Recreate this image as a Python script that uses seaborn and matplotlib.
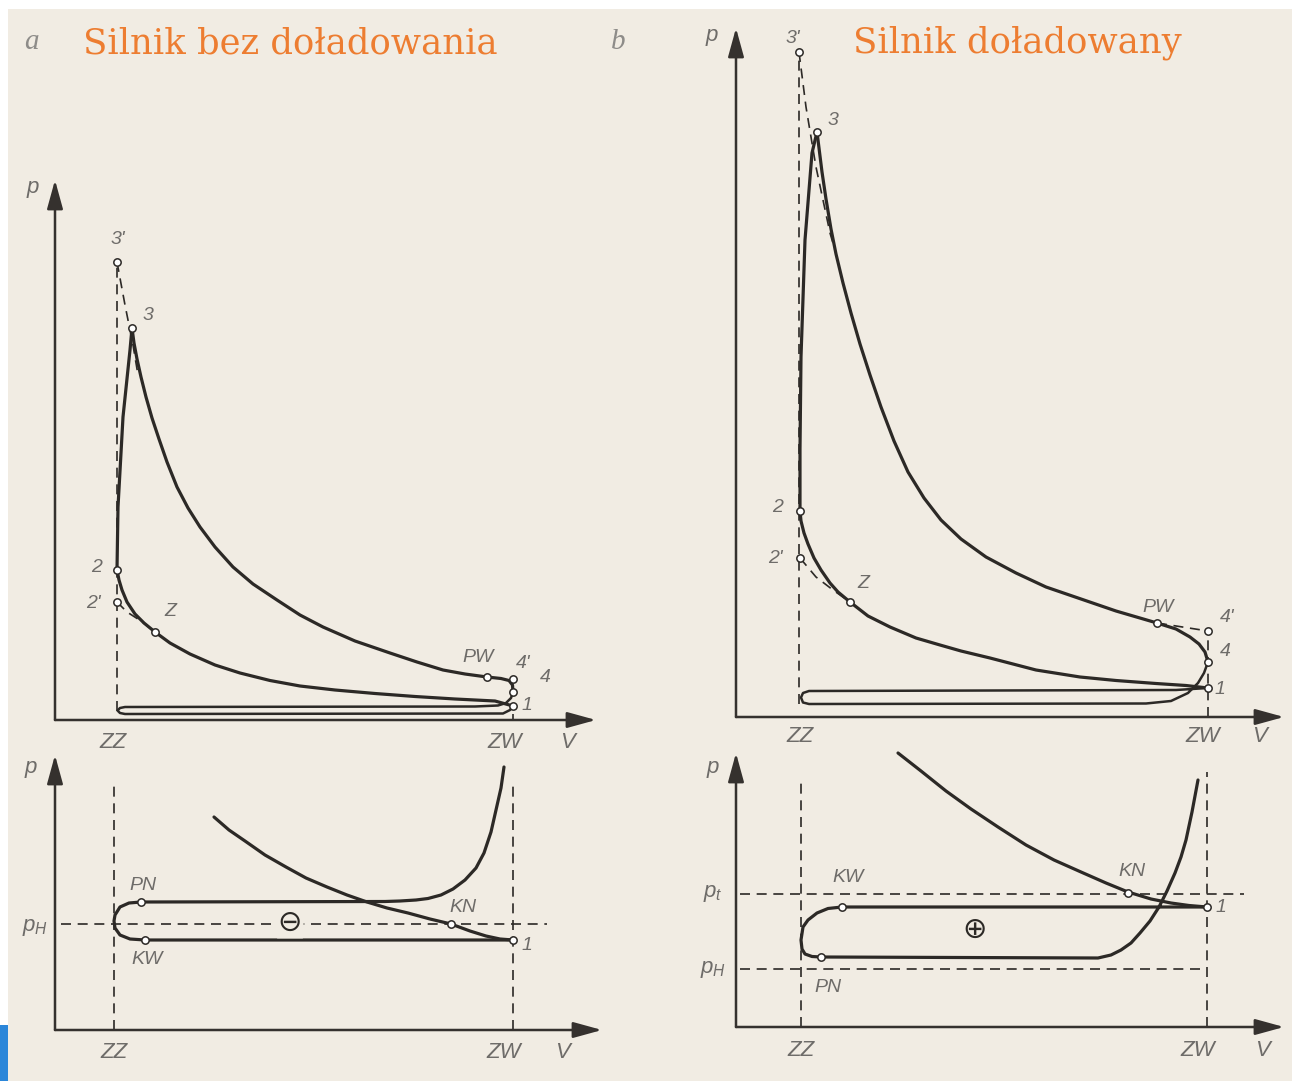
import matplotlib
matplotlib.use("Agg")
import matplotlib.pyplot as plt
from matplotlib.patches import Rectangle
import seaborn as sns

sns.set_theme(style="white")
plt.rcParams["font.family"] = ["Liberation Sans", "DejaVu Sans"]
plt.rcParams["mathtext.fontset"] = "custom"
plt.rcParams["mathtext.it"] = "Liberation Sans:italic"
plt.rcParams["mathtext.rm"] = "Liberation Sans"

W, H = 1294, 1081
PAPER = "#f1ece3"
INK = "#2c2926"
AXIS = "#35312e"
LABEL = "#6e6c69"
ORANGE = "#ed7d31"

# ---------------- panel a: naturally aspirated engine, full cycle ----------------
a_zz, a_zw = 6.2, 45.8
a_comb_V = [6.2, 6.3, 6.8, 7.5, 7.7]
a_comb_p = [15.0, 21.3, 30.3, 37.0, 39.2]
a_exp_V = [7.7, 7.9, 8.2, 8.6, 9.1, 9.7, 10.4, 11.2, 12.2, 13.3, 14.5, 16.0, 17.8, 19.8, 22.2,
           24.5, 26.8, 30.0, 33.5, 36.2, 38.8, 41.0, 43.2, 44.6, 45.4, 45.75, 45.8]
a_exp_p = [39.2, 37.7, 36.1, 34.3, 32.3, 30.2, 28.1, 25.8, 23.3, 21.2, 19.3, 17.3, 15.3, 13.6, 12.0,
           10.5, 9.3, 7.9, 6.7, 5.8, 5.0, 4.6, 4.3, 4.15, 3.95, 3.5, 2.8]
a_pump_V = [45.8, 45.6, 45.1, 44.3, 42.0, 7.0, 6.5, 6.25, 6.5, 7.0, 44.8, 45.5, 45.8]
a_pump_p = [2.8, 2.2, 1.7, 1.45, 1.35, 1.3, 1.2, 0.95, 0.7, 0.6, 0.65, 1.0, 1.4]
a_comp_V = [45.8, 44.0, 40.0, 36.0, 32.0, 28.0, 24.5, 21.5, 18.5, 16.0, 13.5, 11.5, 10.0,
            8.9, 8.0, 7.2, 6.7, 6.4, 6.2]
a_comp_p = [1.4, 1.9, 2.1, 2.35, 2.65, 3.0, 3.4, 3.95, 4.7, 5.5, 6.6, 7.7, 8.8,
            9.7, 10.6, 11.8, 13.0, 14.0, 15.0]
a_th_exp_V = [6.2, 7.0, 7.8, 8.3]
a_th_exp_p = [45.8, 41.5, 37.5, 34.5]
a_th_comp_V = [6.2, 7.2, 8.6, 10.0]
a_th_comp_p = [11.8, 10.8, 9.9, 8.8]
a_pts_V = [6.2, 7.7, 6.2, 6.2, 10.0, 43.2, 45.8, 45.8, 45.8]
a_pts_p = [45.8, 39.2, 15.0, 11.8, 8.8, 4.3, 4.1, 2.8, 1.4]
a_lbl = ["3'", "3", "2", "2'", "Z", "PW", "4'", "4", "1"]
a_lbl_V = [6.3, 9.3, 4.2, 3.8, 11.5, 42.3, 46.8, 49.0, 47.2]
a_lbl_p = [48.0, 40.5, 15.3, 11.7, 10.8, 6.3, 5.7, 4.2, 1.5]

# ---------------- panel b: supercharged engine, full cycle ----------------
b_zz, b_zw = 6.3, 47.2
b_comb_V = [6.4, 6.4, 6.5, 6.9, 7.6, 8.1]
b_comb_p = [20.6, 26.8, 36.0, 47.7, 56.4, 58.5]
b_exp_V = [8.1, 8.3, 8.6, 9.0, 9.5, 10.0, 10.7, 11.5, 12.4, 13.4, 14.5, 15.8, 17.2, 18.8, 20.5,
           22.5, 25.0, 28.0, 31.0, 34.5, 38.0, 42.1, 44.0, 45.4, 46.3, 46.9, 47.2]
b_exp_p = [58.5, 56.9, 54.5, 51.8, 48.8, 46.3, 43.4, 40.4, 37.3, 34.2, 31.0, 27.6, 24.5, 21.9, 19.7,
           17.8, 16.0, 14.4, 13.0, 11.8, 10.6, 9.4, 8.8, 8.0, 7.3, 6.5, 5.5]
b_pump_V = [47.2, 46.8, 46.2, 45.2, 43.5, 41.0, 7.3, 6.7, 6.5, 6.7, 7.3, 44.0, 47.2]
b_pump_p = [5.5, 4.4, 3.4, 2.4, 1.6, 1.35, 1.3, 1.45, 1.95, 2.4, 2.6, 2.7, 2.9]
b_comp_V = [47.2, 45.0, 42.0, 38.0, 34.4, 30.0, 25.4, 22.5, 20.4, 18.0, 15.4, 13.2, 11.4,
            10.2, 9.4, 8.5, 7.8, 7.2, 6.8, 6.5, 6.4]
b_comp_p = [2.9, 3.15, 3.35, 3.65, 4.0, 4.7, 5.9, 6.6, 7.2, 7.9, 9.0, 10.1, 11.5,
            12.5, 13.4, 14.7, 15.9, 17.3, 18.4, 19.6, 20.6]
b_th_exp_V = [6.3, 7.0, 8.0, 9.4, 9.9]
b_th_exp_p = [66.5, 61.0, 55.0, 48.4, 46.7]
b_th_comp_V = [6.4, 8.0, 9.7, 11.4]
b_th_comp_p = [15.9, 14.0, 12.7, 11.5]
b_pw_V = [42.1, 47.2]
b_pw_p = [9.4, 8.6]
b_pts_V = [6.3, 8.1, 6.4, 6.4, 11.4, 42.1, 47.2, 47.2, 47.2]
b_pts_p = [66.5, 58.5, 20.6, 15.9, 11.5, 9.4, 8.6, 5.5, 2.9]
b_lbl = ["3'", "3", "2", "2'", "Z", "PW", "4'", "4", "1"]
b_lbl_V = [5.7, 9.7, 4.2, 3.9, 12.7, 42.2, 49.1, 48.9, 48.4]
b_lbl_p = [67.9, 59.7, 21.0, 15.9, 13.4, 11.0, 10.0, 6.5, 2.7]

# ---------------- panel c: gas exchange, naturally aspirated ----------------
c_zz, c_zw, c_top = 5.9, 45.8, 25.0
c_pH = 10.6
c_exh_V = [44.9, 44.6, 44.1, 43.6, 42.9, 42.1, 41.0, 39.8, 38.6, 37.3, 36.1, 34.5, 33.0,
           8.6, 7.4, 6.5, 6.0, 5.9, 6.0, 6.5, 7.5, 9.0, 45.8]
c_exh_p = [26.3, 24.2, 22.0, 19.8, 17.7, 16.2, 15.0, 14.1, 13.5, 13.15, 13.0, 12.9, 12.85,
           12.8, 12.7, 12.3, 11.5, 10.9, 10.2, 9.5, 9.1, 9.0, 9.0]
c_comp_V = [15.9, 17.4, 19.0, 21.0, 23.1, 25.1, 27.2, 29.2, 31.2, 33.2, 35.3, 37.5, 39.6,
            41.5, 43.1, 44.5, 45.8]
c_comp_p = [21.3, 20.0, 18.9, 17.5, 16.3, 15.2, 14.3, 13.5, 12.8, 12.2, 11.7, 11.1, 10.6,
            9.9, 9.4, 9.1, 9.0]
c_pts_V = [8.6, 9.0, 39.6, 45.8]
c_pts_p = [12.8, 9.0, 10.6, 9.0]
c_lbl = ["PN", "KW", "KN", "1"]
c_lbl_V = [8.8, 9.2, 40.8, 47.2]
c_lbl_p = [14.5, 7.1, 12.3, 8.5]
c_sign_V, c_sign_p = 23.5, 10.7

# ---------------- panel d: gas exchange, supercharged ----------------
d_zz, d_zz_top = 6.5, 24.4
d_zw, d_zw_top = 47.1, 25.5
d_pt, d_pH = 13.3, 5.8
d_loop_V = [47.1, 10.6, 9.2, 8.1, 7.2, 6.7, 6.5, 6.6, 6.9, 7.6, 8.5, 36.2, 37.5, 38.5, 39.5,
            40.4, 41.4, 42.3, 43.1, 43.9, 44.5, 45.0, 45.6, 46.2]
d_loop_p = [12.0, 12.0, 11.85, 11.4, 10.7, 10.0, 8.7, 7.8, 7.3, 7.05, 7.0, 6.9, 7.2, 7.7, 8.4,
            9.4, 10.6, 12.0, 13.6, 15.4, 17.0, 18.7, 21.5, 24.7]
d_desc_V = [16.2, 18.5, 21.0, 23.5, 26.2, 29.0, 31.8, 34.5, 37.0, 39.2, 41.5, 43.5, 45.3, 47.1]
d_desc_p = [27.4, 25.6, 23.6, 21.8, 20.0, 18.2, 16.7, 15.5, 14.4, 13.5, 12.8, 12.4, 12.15, 12.0]
d_pts_V = [10.6, 8.5, 39.2, 47.1]
d_pts_p = [12.0, 7.0, 13.4, 12.0]
d_lbl = ["KW", "PN", "KN", "1"]
d_lbl_V = [11.2, 9.2, 39.6, 48.5]
d_lbl_p = [15.0, 4.0, 15.5, 11.9]
d_sign_V, d_sign_p = 23.9, 9.7

fig = plt.figure(figsize=(W / 100, H / 100), dpi=100)
fig.patch.set_facecolor("white")
fig.patches.append(Rectangle((8 / W, 0), 1 - 10 / W, 1 - 9 / H, transform=fig.transFigure,
                             facecolor=PAPER, edgecolor="none", zorder=-10))
fig.patches.append(Rectangle((0, 0), 8 / W, 56 / H, transform=fig.transFigure,
                             facecolor="#2b86d9", edgecolor="none", zorder=-9))


def panel(ox, oy, xmax, ymax):
    ax = fig.add_axes([ox / W, 1 - oy / H, xmax * 10 / W, ymax * 10 / H])
    ax.set_xlim(0, xmax)
    ax.set_ylim(0, ymax)
    ax.set_axis_off()
    arrow = dict(arrowstyle="-|>,head_length=0.8,head_width=0.22", color=AXIS, lw=1.8,
                 mutation_scale=22, shrinkA=0, shrinkB=0)
    ax.annotate("", xy=(xmax, 0), xytext=(0, 0), arrowprops=arrow, annotation_clip=False)
    ax.annotate("", xy=(0, ymax), xytext=(0, 0), arrowprops=arrow, annotation_clip=False)
    return ax


def curve(ax, V, p, dashed=False, lw=2.3):
    kw = dict(linestyle=(0, (6, 4))) if dashed else {}
    sns.lineplot(x=V, y=p, sort=False, estimator=None, color=INK,
                 linewidth=1.2 if dashed else lw, ax=ax, clip_on=False, **kw)


def points(ax, V, p):
    sns.scatterplot(x=V, y=p, s=28, facecolor="white", edgecolor=INK, linewidth=1.1,
                    zorder=6, ax=ax, clip_on=False)


def labels(ax, names, V, p, size=14):
    for t, x, y in zip(names, V, p):
        ax.text(x, y, t, ha="center", va="center", fontsize=size, style="italic", color=LABEL)


def sign(ax, x, y, t):
    ax.text(x, y, t, ha="center", va="center", fontsize=21, color=INK, family="DejaVu Sans",
            bbox=dict(boxstyle="round,pad=0.05", facecolor=PAPER, edgecolor="none"), zorder=7)


def axis_labels(ax, zz, zw, v_pos, y_lab, p_pos):
    for t, x in (("ZZ", zz), ("ZW", zw), ("V", v_pos)):
        ax.text(x, y_lab, t, ha="center", va="center", fontsize=16, style="italic", color=LABEL)
    ax.text(p_pos[0], p_pos[1], "p", ha="center", va="center", fontsize=16, style="italic", color=LABEL)


# panel a
ax = panel(55, 720, 54.1, 54.0)
curve(ax, [a_zz, a_zz], [0.9, a_pts_p[0]], dashed=True)
curve(ax, a_th_exp_V, a_th_exp_p, dashed=True)
curve(ax, a_th_comp_V, a_th_comp_p, dashed=True)
curve(ax, [a_zw, a_zw], [0, 0.6], dashed=True)
curve(ax, a_comb_V, a_comb_p)
curve(ax, a_exp_V, a_exp_p)
curve(ax, a_pump_V, a_pump_p, lw=1.8)
curve(ax, a_comp_V, a_comp_p)
points(ax, a_pts_V, a_pts_p)
labels(ax, a_lbl, a_lbl_V, a_lbl_p)
axis_labels(ax, 5.8, 45.0, 51.3, -2.2, (-2.2, 53.2))

# panel b
ax = panel(736, 717, 54.8, 68.9)
curve(ax, [b_zz, b_zz], [1.3, b_pts_p[0]], dashed=True)
curve(ax, b_th_exp_V, b_th_exp_p, dashed=True)
curve(ax, b_th_comp_V, b_th_comp_p, dashed=True)
curve(ax, b_pw_V, b_pw_p, dashed=True)
curve(ax, [b_zw, b_zw], [0, 8.6], dashed=True)
curve(ax, b_comb_V, b_comb_p)
curve(ax, b_exp_V, b_exp_p)
curve(ax, b_pump_V, b_pump_p, lw=1.8)
curve(ax, b_comp_V, b_comp_p)
points(ax, b_pts_V, b_pts_p)
labels(ax, b_lbl, b_lbl_V, b_lbl_p)
axis_labels(ax, 6.4, 46.7, 52.4, -2.0, (-2.4, 68.2))

# panel c
ax = panel(55, 1030, 54.7, 27.5)
curve(ax, [c_zz, c_zz], [0, c_top], dashed=True)
curve(ax, [c_zw, c_zw], [0, c_top], dashed=True)
curve(ax, [0.6, 49.2], [c_pH, c_pH], dashed=True)
curve(ax, c_exh_V, c_exh_p)
curve(ax, c_comp_V, c_comp_p)
points(ax, c_pts_V, c_pts_p)
labels(ax, c_lbl, c_lbl_V, c_lbl_p)
sign(ax, c_sign_V, c_sign_p, "\u2296")
axis_labels(ax, 5.9, 44.9, 50.8, -2.2, (-2.4, 26.2))
ax.text(-2.0, 10.2, r"$\mathit{p}_{\mathit{H}}$", ha="center", va="center", fontsize=16, color=LABEL)

# panel d
ax = panel(736, 1027, 54.8, 27.4)
curve(ax, [d_zz, d_zz], [0, d_zz_top], dashed=True)
curve(ax, [d_zw, d_zw], [0, d_zw_top], dashed=True)
curve(ax, [0.4, 50.8], [d_pt, d_pt], dashed=True)
curve(ax, [0.4, 46.9], [d_pH, d_pH], dashed=True)
curve(ax, d_loop_V, d_loop_p)
curve(ax, d_desc_V, d_desc_p)
points(ax, d_pts_V, d_pts_p)
labels(ax, d_lbl, d_lbl_V, d_lbl_p)
sign(ax, d_sign_V, d_sign_p, "\u2295")
axis_labels(ax, 6.5, 46.2, 52.7, -2.3, (-2.3, 26.0))
ax.text(-2.3, 13.4, r"$\mathit{p}_{\mathit{t}}$", ha="center", va="center", fontsize=16, color=LABEL)
ax.text(-2.3, 5.7, r"$\mathit{p}_{\mathit{H}}$", ha="center", va="center", fontsize=16, color=LABEL)

# headings
fig.text(31 / W, 1 - 42 / H, "a", ha="center", va="center", fontsize=21, style="italic",
         color="#8e8c89", family="Liberation Serif")
fig.text(618 / W, 1 - 42 / H, "b", ha="center", va="center", fontsize=21, style="italic",
         color="#8e8c89", family="Liberation Serif")
fig.text(83 / W, 1 - 53 / H, "Silnik bez doładowania", ha="left", va="baseline", fontsize=25.5,
         color=ORANGE, family="DejaVu Serif")
fig.text(853 / W, 1 - 53 / H, "Silnik doładowany", ha="left", va="baseline", fontsize=25.5,
         color=ORANGE, family="DejaVu Serif")

fig.savefig("out.png", dpi=100, facecolor=fig.get_facecolor())
